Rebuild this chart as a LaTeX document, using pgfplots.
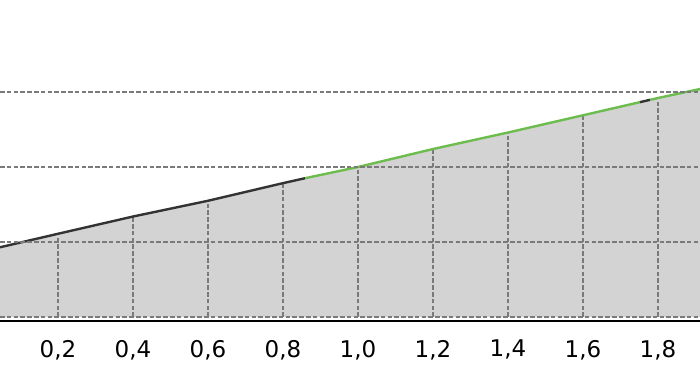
\documentclass[border=0pt]{standalone}
\usepackage{pgfplots}
\pgfplotsset{compat=1.18}
\usepackage{fontspec}
\setmainfont{DejaVu Sans}
\definecolor{fillgray}{HTML}{D3D3D3}
\definecolor{darkline}{HTML}{333333}
\definecolor{greenline}{HTML}{6CBD4E}
\definecolor{gridgray}{HTML}{7A7A7A}
\begin{document}
\begin{tikzpicture}
\begin{axis}[
  scale only axis,
  width=350pt, height=160.5pt,
  xmin=0.0453, xmax=1.912,
  ymin=-0.053, ymax=4.227,
  axis x line*=bottom,
  axis y line*=left,
  y axis line style={draw=none},
  x axis line style={line width=1pt, black, -},
  xtick={0.2,0.4,0.6,0.8,1.0,1.2,1.4,1.6,1.8},
  ytick={0,1,2,3},
  yticklabels={},
  major tick length=0pt,
  xmajorgrids=false,
  ymajorgrids=true,
  major grid style={gridgray, line width=0.55pt, dash pattern=on 2.3pt off 1.1pt},
  tick label style={font=\fontsize{11.5}{13}\selectfont},
  xticklabel style={yshift=-6pt},
  /pgf/number format/.cd, use comma, fixed, fixed zerofill, precision=1, assume math mode=true,
  /pgfplots/.cd,
  axis on top,
  clip=true,
]
\addplot[fill=fillgray, draw=none] coordinates {
  (0.0453,-0.2) (0.0453,0.93) (0.2,1.11) (0.4,1.34) (0.6,1.55) (0.8,1.785) (1.0,2.0)
  (1.2,2.24) (1.4,2.46) (1.6,2.69) (1.8,2.92) (1.912,3.04) (1.912,-0.2)
} \closedcycle;
\addplot[ycomb, gridgray, line width=0.55pt, dash pattern=on 2.3pt off 1.1pt] coordinates {
  (0.2,1.11) (0.4,1.34) (0.6,1.55) (0.8,1.785) (1.0,2.0)
  (1.2,2.24) (1.4,2.46) (1.6,2.69) (1.8,2.92)
};
\addplot[darkline, line width=1.2pt] coordinates {
  (0.0453,0.93) (0.2,1.11) (0.4,1.34) (0.6,1.55) (0.8,1.785) (0.859,1.851)
};
\addplot[greenline, line width=1.2pt] coordinates {
  (0.859,1.851) (1.0,2.0) (1.2,2.24) (1.4,2.46) (1.6,2.69) (1.752,2.865)
};
\addplot[darkline, line width=1.2pt] coordinates {
  (1.752,2.865) (1.779,2.896)
};
\addplot[greenline, line width=1.2pt] coordinates {
  (1.779,2.896) (1.8,2.92) (1.912,3.04)
};
\end{axis}
\pgfresetboundingbox
\path (0,-26pt) rectangle (350pt,160.5pt);
\end{tikzpicture}
\end{document}
